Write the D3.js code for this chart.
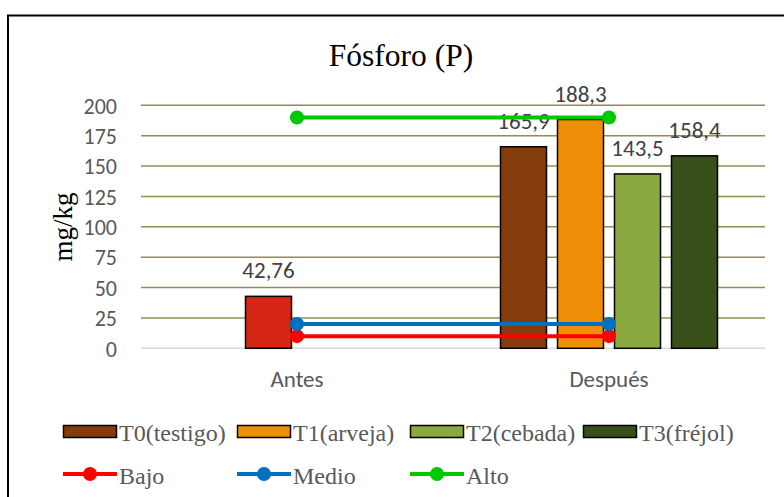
<!DOCTYPE html>
<html>
<head>
<meta charset="utf-8">
<script src="https://cdn.jsdelivr.net/npm/d3@7/dist/d3.min.js"></script>
<style>
  html, body { margin: 0; padding: 0; background: #fff; }
  svg { display: block; }
  .serif { font-family: "Liberation Serif", "Times New Roman", serif; }
  .sans { font-family: Calibri, Carlito, Lato, sans-serif; }
</style>
</head>
<body>
<svg id="chart" width="784" height="497"></svg>
<script>
// Data.
const categories = ["Antes", "Después"];
const seriesNames = ["T0(testigo)", "T1(arveja)", "T2(cebada)", "T3(fréjol)"];
const seriesColours = ["#843c0c", "#ef8f07", "#8aaa3f", "#384f1a"];
// one value per category, null where the series has no bar
const t0Values = [null, 165.9];
const t1Values = [42.76, 188.3];
const t2Values = [null, 143.5];
const t3Values = [null, 158.4];
const antesColour = "#d42613"; // the single "Antes" bar is recoloured

const lineNames = ["Bajo", "Medio", "Alto"];
const lineColours = ["#ff0000", "#0070c0", "#00c800"];
const bajoValues = [10, 10];
const medioValues = [20, 20];
const altoValues = [190, 190];

const yTicks = [0, 25, 50, 75, 100, 125, 150, 175, 200];

const fmt = (v) => String(v).replace(".", ",");

const svg = d3.select("#chart");

// Outer chart border (runs off the right/bottom edge in the reference).
svg.append("rect")
  .attr("x", 8).attr("y", 15.5)
  .attr("width", 820).attr("height", 520)
  .attr("fill", "#fff")
  .attr("stroke", "#000").attr("stroke-width", 2);

const plot = { left: 141, right: 765, top: 105.3, bottom: 348.3 };

const y = d3.scaleLinear().domain([0, 200]).range([plot.bottom, plot.top]);
const x0 = d3.scaleBand().domain(categories).range([plot.left, plot.right]).padding(0);
const clusterW = 217;
const x1 = d3.scaleBand().domain(seriesNames).range([0, clusterW]).paddingInner(11 / 57).paddingOuter(0);
const clusterStart = (c) => x0(c) + (x0.bandwidth() - clusterW) / 2;
const catCenter = (c) => x0(c) + x0.bandwidth() / 2;

// Title
svg.append("text")
  .attr("class", "serif")
  .attr("x", 401).attr("y", 66)
  .attr("text-anchor", "middle")
  .attr("font-size", 31.5)
  .attr("fill", "#000")
  .text("Fósforo (P)");

// Gridlines
svg.append("g")
  .selectAll("line")
  .data(yTicks.filter((t) => t > 0))
  .join("line")
  .attr("x1", plot.left).attr("x2", plot.right)
  .attr("y1", (d) => y(d)).attr("y2", (d) => y(d))
  .attr("stroke", "#948a54").attr("stroke-width", 1.5);

svg.append("line")
  .attr("x1", plot.left).attr("x2", plot.right)
  .attr("y1", y(0)).attr("y2", y(0))
  .attr("stroke", "#d9d9d9").attr("stroke-width", 1.5);

// Y axis labels
const yAxis = svg.append("g")
  .attr("transform", `translate(${plot.left - 24},0)`)
  .call(d3.axisLeft(y).tickValues(yTicks).tickSize(0).tickPadding(0));
yAxis.select(".domain").remove();
yAxis.selectAll("text")
  .attr("class", "sans")
  .attr("font-size", 22)
  .attr("fill", "#595959")
  .attr("dy", "0.35em");

svg.append("text")
  .attr("class", "serif")
  .attr("transform", `translate(72,227) rotate(-90)`)
  .attr("text-anchor", "middle")
  .attr("font-size", 27)
  .attr("fill", "#000")
  .text("mg/kg");

// Category labels
svg.append("g")
  .selectAll("text")
  .data(categories)
  .join("text")
  .attr("class", "sans")
  .attr("x", (d) => catCenter(d))
  .attr("y", 387)
  .attr("text-anchor", "middle")
  .attr("font-size", 23)
  .attr("fill", "#595959")
  .text((d) => d);

// Bars
const seriesValues = [t0Values, t1Values, t2Values, t3Values];
const bars = [];
seriesNames.forEach((s, i) => {
  categories.forEach((c, j) => {
    const v = seriesValues[i][j];
    if (v == null) return;
    bars.push({ series: s, cat: c, value: v,
      colour: c === "Antes" ? antesColour : seriesColours[i] });
  });
});

svg.append("g")
  .selectAll("rect")
  .data(bars)
  .join("rect")
  .attr("x", (d) => clusterStart(d.cat) + x1(d.series))
  .attr("width", x1.bandwidth())
  .attr("y", (d) => y(d.value))
  .attr("height", (d) => y(0) - y(d.value))
  .attr("fill", (d) => d.colour)
  .attr("stroke", "#000").attr("stroke-width", 1.5);

svg.append("g")
  .selectAll("text")
  .data(bars)
  .join("text")
  .attr("class", "sans")
  .attr("x", (d) => clusterStart(d.cat) + x1(d.series) + x1.bandwidth() / 2)
  .attr("y", (d) => y(d.value) - 18)
  .attr("text-anchor", "middle")
  .attr("font-size", 23)
  .attr("fill", "#404040")
  .text((d) => fmt(d.value));

// Reference lines
const lineValues = [bajoValues, medioValues, altoValues];
const lineGen = d3.line().x((d) => catCenter(d.cat)).y((d) => y(d.value));
lineNames.forEach((name, i) => {
  const pts = categories.map((c, j) => ({ cat: c, value: lineValues[i][j] }));
  const g = svg.append("g");
  g.append("path")
    .datum(pts)
    .attr("d", lineGen)
    .attr("fill", "none")
    .attr("stroke", lineColours[i]).attr("stroke-width", 4);
  g.selectAll("circle")
    .data(pts)
    .join("circle")
    .attr("cx", (d) => catCenter(d.cat))
    .attr("cy", (d) => y(d.value))
    .attr("r", 7)
    .attr("fill", lineColours[i]);
});

// Legend
const legendCols = [63, 237, 410, 583];
const legend = svg.append("g");

seriesNames.forEach((s, i) => {
  const g = legend.append("g").attr("transform", `translate(${legendCols[i]},0)`);
  g.append("rect")
    .attr("x", 0.5).attr("y", 425.5)
    .attr("width", 53).attr("height", 12)
    .attr("fill", seriesColours[i])
    .attr("stroke", "#000").attr("stroke-width", 1.5);
  g.append("text").attr("class", "serif")
    .attr("x", 56).attr("y", 441)
    .attr("font-size", 24).attr("fill", "#595959")
    .text(s);
});

lineNames.forEach((s, i) => {
  const g = legend.append("g").attr("transform", `translate(${legendCols[i]},0)`);
  g.append("line")
    .attr("x1", 0).attr("x2", 54)
    .attr("y1", 474).attr("y2", 474)
    .attr("stroke", lineColours[i]).attr("stroke-width", 4);
  g.append("circle")
    .attr("cx", 27).attr("cy", 474).attr("r", 7)
    .attr("fill", lineColours[i]);
  g.append("text").attr("class", "serif")
    .attr("x", 56).attr("y", 484)
    .attr("font-size", 24).attr("fill", "#595959")
    .text(s);
});
</script>
</body>
</html>
